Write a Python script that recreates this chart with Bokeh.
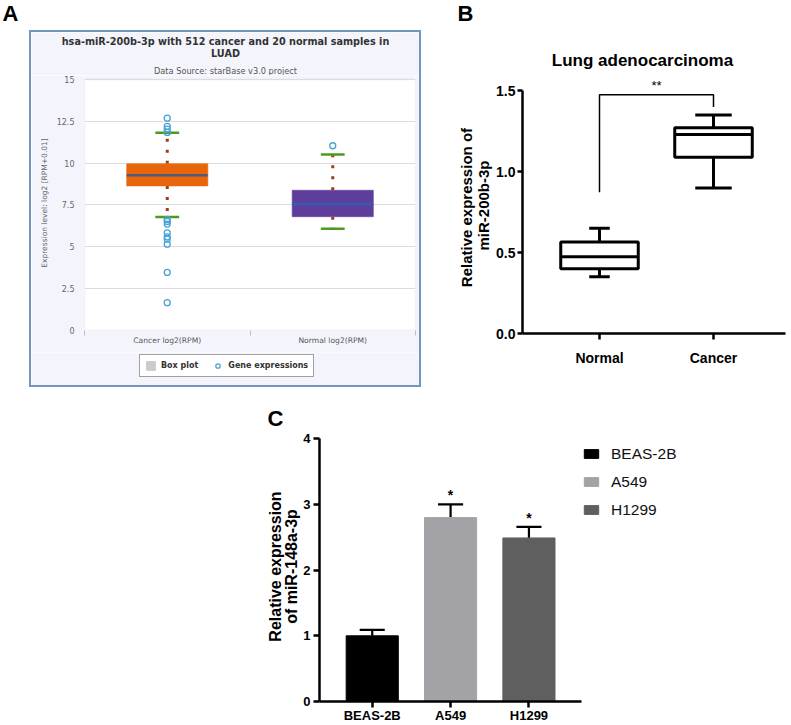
from bokeh.plotting import figure
from bokeh.models import (ColumnDataSource, FixedTicker, Label, BoxAnnotation,
                          Legend, LegendItem, Range1d, Spacer)
from bokeh.layouts import column, row
from bokeh.embed import file_html
from bokeh.resources import INLINE

# ---------------- Panel A data (starBase box plot) ----------------
a_groups = ["Cancer log2(RPM)", "Normal log2(RPM)"]
a_low = [6.78, 6.08]
a_q1 = [8.64, 6.80]
a_median = [9.28, 7.56]
a_q3 = [9.96, 8.38]
a_high = [11.82, 10.52]
a_out_group = [0, 0, 0, 0, 0, 0, 0, 0, 0, 0, 0, 0, 0, 1]
a_out_values = [12.69, 12.20, 12.03, 11.84, 6.64, 6.52, 6.36, 5.84, 5.60,
                5.46, 5.16, 3.47, 1.66, 11.04]
a_yticks = [0, 2.5, 5, 7.5, 10, 12.5, 15]
a_box_colors = ["#e8650c", "#5f3e9b"]
a_median_colors = ["#4f5c76", "#2d5fae"]

# ---------------- Panel B data (GraphPad box plot) ----------------
b_groups = ["Normal", "Cancer"]
b_low = [0.35, 0.90]
b_q1 = [0.40, 1.09]
b_median = [0.475, 1.23]
b_q3 = [0.566, 1.271]
b_high = [0.65, 1.351]
b_yticks = [0.0, 0.5, 1.0, 1.5]
b_bracket = [0.873, 1.475, 1.40]   # left foot, bar, right foot
b_sig = "**"

# ---------------- Panel C data (bar chart) ----------------
c_groups = ["BEAS-2B", "A549", "H1299"]
c_values = [1.0, 2.80, 2.49]
c_errors = [0.09, 0.20, 0.17]
c_sig = ["", "*", "*"]
c_colors = ["#000000", "#a3a3a7", "#5f5f5f"]
c_yticks = [0, 1, 2, 3, 4]

DV = "DejaVu Sans"
AR = "Liberation Sans"
LAV = "#f4f5fc"
BLUE = "#7495bd"
NAN = float("nan")


def strip(w, h, x0, x1, ytop, ybot, fill="white"):
    """A plain text strip: its frame fills it, pixel-like ranges, no axes."""
    f = figure(width=w, height=h, title=None, x_range=Range1d(x0, x1),
               y_range=Range1d(ybot, ytop), x_axis_type=None, y_axis_type=None,
               output_backend="svg", toolbar_location=None, min_border=0)
    f.outline_line_color = None
    f.border_fill_color = fill
    f.background_fill_color = fill
    return f


# ======================= Panel A =======================
s_a = strip(440, 30, 0, 440, 0, 30)
s_a.add_layout(Label(x=2, y=13, text="A", text_align="left",
                     text_baseline="middle", text_font=AR,
                     text_font_style="bold", text_font_size="22px",
                     text_color="black"))

# title strip inside the container
t_a = strip(388, 43, 31, 419, 32, 75, fill=LAV)
t_a.add_layout(Label(x=225, y=40.8,
                     text="hsa-miR-200b-3p with 512 cancer and 20 normal samples in",
                     text_align="center", text_baseline="middle", text_font=DV,
                     text_font_style="bold", text_font_size="9.7px",
                     text_color="#333333"))
t_a.add_layout(Label(x=225, y=52.5, text="LUAD", text_align="center",
                     text_baseline="middle", text_font=DV, text_font_style="bold",
                     text_font_size="9.7px", text_color="#333333"))
t_a.add_layout(Label(x=225, y=70.2, text="Data Source: starBase v3.0 project",
                     text_align="center", text_baseline="middle", text_font=DV,
                     text_font_size="8.2px", text_color="#555555"))

# plot
a_x = [i + 0.5 for i in range(len(a_groups))]
pa = figure(width=388, height=277, title=None, x_range=Range1d(0, 2),
            y_range=Range1d(0, 15.239), output_backend="svg", toolbar_location=None,
            min_border_left=53, min_border_right=4, min_border_top=0,
            min_border_bottom=22)
pa.border_fill_color = LAV
pa.background_fill_color = LAV
pa.outline_line_color = None
pa.add_layout(BoxAnnotation(left=0, right=2, top=15, bottom=0,
                            fill_color="white", fill_alpha=1,
                            line_color="#c6c8cf", line_width=1.5, level="image"))

src_a = ColumnDataSource(dict(
    x=a_x, low=a_low, q1=a_q1, med=a_median, q3=a_q3, high=a_high,
    box=a_box_colors, medc=a_median_colors,
    wl=[v - 0.072 for v in a_x], wr=[v + 0.072 for v in a_x],
    bl=[v - 0.245 for v in a_x], br=[v + 0.245 for v in a_x]))

pa.segment(x0="x", y0="q3", x1="x", y1="high", source=src_a,
           line_color="#a2391b", line_width=3, line_dash="3 8", line_cap="butt")
pa.segment(x0="x", y0="q1", x1="x", y1="low", source=src_a,
           line_color="#a2391b", line_width=3, line_dash="3 8", line_cap="butt")
pa.vbar(x="x", width=0.49, bottom="q1", top="q3", source=src_a,
        fill_color="box", line_color="box", line_alpha=0.6, line_width=1)
pa.segment(x0="bl", y0="med", x1="br", y1="med", source=src_a,
           line_color="medc", line_width=2.5)
pa.segment(x0="wl", y0="high", x1="wr", y1="high", source=src_a,
           line_color="#4e9a1e", line_width=2.5)
pa.segment(x0="wl", y0="low", x1="wr", y1="low", source=src_a,
           line_color="#4e9a1e", line_width=2.5)
pa.scatter(x=[a_x[g] for g in a_out_group], y=a_out_values,
           marker="circle", size=6, fill_color=None,
           line_color="#47a3d8", line_width=1.3)

pa.ygrid.ticker = FixedTicker(ticks=a_yticks)
pa.ygrid.grid_line_color = "#dcdcdc"
pa.xgrid.grid_line_color = None
pa.yaxis.ticker = FixedTicker(ticks=a_yticks)
pa.yaxis.bounds = (0, 15)
pa.yaxis.axis_line_color = None
pa.yaxis.major_tick_line_color = None
pa.yaxis.minor_tick_line_color = None
pa.yaxis.major_tick_out = 0
pa.yaxis.major_label_standoff = 10
pa.yaxis.major_label_text_font = DV
pa.yaxis.major_label_text_font_size = "8px"
pa.yaxis.major_label_text_color = "#666666"
pa.yaxis.axis_label = "Expression level: log2 [RPM+0.01]"
pa.yaxis.axis_label_text_font = DV
pa.yaxis.axis_label_text_font_size = "7.5px"
pa.yaxis.axis_label_text_font_style = "normal"
pa.yaxis.axis_label_text_color = "#666666"
pa.yaxis.axis_label_standoff = 5
pa.xaxis.ticker = FixedTicker(ticks=a_x, minor_ticks=[0, 1, 2])
pa.xaxis.major_label_overrides = {x: g for x, g in zip(a_x, a_groups)}
pa.xaxis.axis_line_color = None
pa.xaxis.major_tick_line_color = None
pa.xaxis.major_tick_out = 0
pa.xaxis.minor_tick_line_color = "#c0c0c0"
pa.xaxis.minor_tick_in = 0
pa.xaxis.minor_tick_out = 5
pa.xaxis.major_label_standoff = 0
pa.xaxis.major_label_text_font = DV
pa.xaxis.major_label_text_font_size = "7.6px"
pa.xaxis.major_label_text_color = "#555555"

# legend strip inside the container (legend keys are unplotted NaN proxies)
l_a = strip(388, 33, 31, 419, 352, 385, fill=LAV)
r_boxleg = l_a.vbar(x=[NAN], top=[NAN], bottom=[NAN], width=1,
                    fill_color="#cccccc", line_color="#cccccc")
r_outleg = l_a.scatter(x=[NAN], y=[NAN], marker="circle", size=6, fill_color=None,
                       line_color="#47a3d8", line_width=1.3)
l_a.add_layout(Legend(items=[LegendItem(label="Box plot", renderers=[r_boxleg]),
                             LegendItem(label="Gene expressions", renderers=[r_outleg])],
                      orientation="horizontal", location=(108, 8),
                      border_line_color="#444444", border_line_width=1.5,
                      background_fill_color="white", background_fill_alpha=1,
                      label_text_font=DV, label_text_font_style="bold",
                      label_text_font_size="8px", label_text_color="#333333",
                      glyph_width=11, glyph_height=11, label_height=11,
                      label_standoff=5, spacing=14, padding=5, margin=0))

inner_a = column(row(t_a), row(pa), row(l_a))
box_a = column(Spacer(width=392, height=2, styles={"background-color": BLUE}),
               row(Spacer(width=2, height=353, styles={"background-color": BLUE}),
                   inner_a,
                   Spacer(width=2, height=353, styles={"background-color": BLUE})),
               Spacer(width=392, height=2, styles={"background-color": BLUE}))
left_col = column(row(s_a),
                  row(Spacer(width=29, height=357), box_a, Spacer(width=19, height=357)),
                  Spacer(width=440, height=8))

# ======================= Panel B =======================
s_b = strip(351, 77, 440, 791, 0, 77)
s_b.add_layout(Label(x=457, y=13, text="B", text_align="left",
                     text_baseline="middle", text_font=AR,
                     text_font_style="bold", text_font_size="22px",
                     text_color="black"))
s_b.add_layout(Label(x=642, y=60, text="Lung adenocarcinoma", text_align="center",
                     text_baseline="middle", text_font=AR, text_font_style="bold",
                     text_font_size="17px", text_color="black"))

b_x = [i + 1 for i in range(len(b_groups))]
b_cap = [0.18, 0.32]
pb = figure(width=351, height=318, title=None, x_range=Range1d(0.3246, 2.6316),
            y_range=Range1d(0, 1.5822), output_backend="svg", toolbar_location=None,
            min_border_left=82, min_border_right=6, min_border_top=0,
            min_border_bottom=62)
pb.outline_line_color = None
pb.grid.visible = False
src_b = ColumnDataSource(dict(
    x=b_x, low=b_low, q1=b_q1, med=b_median, q3=b_q3, high=b_high,
    bl=[v - 0.34 for v in b_x], br=[v + 0.34 for v in b_x],
    cl=[v - c / 2 for v, c in zip(b_x, b_cap)],
    cr=[v + c / 2 for v, c in zip(b_x, b_cap)]))
pb.segment(x0="x", y0="q3", x1="x", y1="high", source=src_b, line_color="black", line_width=3)
pb.segment(x0="x", y0="q1", x1="x", y1="low", source=src_b, line_color="black", line_width=3)
pb.segment(x0="cl", y0="high", x1="cr", y1="high", source=src_b, line_color="black", line_width=3)
pb.segment(x0="cl", y0="low", x1="cr", y1="low", source=src_b, line_color="black", line_width=3)
pb.vbar(x="x", width=0.68, bottom="q1", top="q3", source=src_b,
        fill_color="white", line_color="black", line_width=3)
pb.segment(x0="bl", y0="med", x1="br", y1="med", source=src_b, line_color="black", line_width=3)
pb.line(x=[b_x[0], b_x[0], b_x[1], b_x[1]],
        y=[b_bracket[0], b_bracket[1], b_bracket[1], b_bracket[2]],
        line_color="black", line_width=1.5)
pb.add_layout(Label(x=(b_x[0] + b_x[1]) / 2, y=1.530, text=b_sig, text_align="center",
                    text_baseline="middle", text_font=AR, text_font_size="13px",
                    text_color="black"))

for ax in (pb.xaxis, pb.yaxis):
    ax.axis_line_width = 2.5
    ax.axis_line_color = "black"
    ax.major_tick_line_width = 2.5
    ax.major_tick_line_color = "black"
    ax.minor_tick_line_color = None
    ax.major_tick_in = 0
    ax.major_label_text_font = AR
    ax.major_label_text_font_style = "bold"
    ax.major_label_text_font_size = "14px"
    ax.major_label_text_color = "black"
pb.yaxis.ticker = FixedTicker(ticks=b_yticks)
pb.yaxis.bounds = (0, 1.5)
pb.yaxis.major_label_overrides = {v: f"{v:.1f}" for v in b_yticks}
pb.yaxis.major_tick_out = 5
pb.yaxis.major_label_standoff = 2
pb.yaxis.axis_label = "Relative  expression of\nmiR-200b-3p"
pb.yaxis.axis_label_text_font = AR
pb.yaxis.axis_label_text_font_style = "bold"
pb.yaxis.axis_label_text_font_size = "15px"
pb.yaxis.axis_label_text_color = "black"
pb.yaxis.axis_label_text_line_height = 1.0
pb.yaxis.axis_label_standoff = 1
pb.xaxis.ticker = FixedTicker(ticks=b_x)
pb.xaxis.major_label_overrides = {x: g for x, g in zip(b_x, b_groups)}
pb.xaxis.major_tick_out = 6
pb.xaxis.major_label_standoff = 10

right_col = column(row(s_b), row(pb))

# ======================= Panel C =======================
s_c = strip(791, 36, 0, 791, 395, 431)
s_c.add_layout(Label(x=267, y=418, text="C", text_align="left",
                     text_baseline="middle", text_font=AR,
                     text_font_style="bold", text_font_size="22px",
                     text_color="black"))

c_x = [i + 1 for i in range(len(c_groups))]
c_top = [v + e for v, e in zip(c_values, c_errors)]
pc = figure(width=791, height=294, title=None, x_range=Range1d(0.327, 6.351),
            y_range=Range1d(0, 4.111), output_backend="svg", toolbar_location=None,
            min_border_left=319, min_border_right=0, min_border_top=0,
            min_border_bottom=24)
pc.outline_line_color = None
pc.grid.visible = False
src_c = ColumnDataSource(dict(x=c_x, v=c_values, top=c_top, color=c_colors,
                              sig=c_sig,
                              cl=[v - 0.16 for v in c_x], cr=[v + 0.16 for v in c_x]))
pc.segment(x0="x", y0="v", x1="x", y1="top", source=src_c, line_color="black", line_width=2.2)
pc.segment(x0="cl", y0="top", x1="cr", y1="top", source=src_c, line_color="black", line_width=2.2)
r_bars = pc.vbar(x="x", width=0.665, top="v", bottom=0, source=src_c,
                 fill_color="color", line_color="color")
pc.text(x="x", y="top", text="sig", source=src_c, text_align="center",
        text_baseline="bottom", y_offset=-1, text_font_size="14px",
        text_font_style="bold", text_color="black")

for ax in (pc.xaxis, pc.yaxis):
    ax.axis_line_width = 2.5
    ax.axis_line_color = "black"
    ax.major_tick_line_width = 2.5
    ax.major_tick_line_color = "black"
    ax.minor_tick_line_color = None
    ax.major_tick_in = 0
    ax.major_label_text_font = AR
    ax.major_label_text_font_style = "bold"
    ax.major_label_text_font_size = "13px"
    ax.major_label_text_color = "black"
pc.yaxis.ticker = FixedTicker(ticks=c_yticks)
pc.yaxis.bounds = (0, 4)
pc.yaxis.major_tick_out = 6
pc.yaxis.major_label_standoff = 3
pc.yaxis.axis_label = "Relative expression\nof miR-148a-3p"
pc.yaxis.axis_label_text_font = AR
pc.yaxis.axis_label_text_font_style = "bold"
pc.yaxis.axis_label_text_font_size = "16px"
pc.yaxis.axis_label_text_color = "black"
pc.yaxis.axis_label_text_line_height = 0.95
pc.yaxis.axis_label_standoff = 0
pc.xaxis.ticker = FixedTicker(ticks=c_x)
pc.xaxis.bounds = (0.327, 3.677)
pc.xaxis.major_label_overrides = {x: g for x, g in zip(c_x, c_groups)}
pc.xaxis.major_tick_out = 6
pc.xaxis.major_label_standoff = 0

pc.add_layout(Legend(items=[LegendItem(label=g, renderers=[r_bars], index=i)
                            for i, g in enumerate(c_groups)],
                     location=(263, 181), orientation="vertical",
                     border_line_color=None, background_fill_alpha=0,
                     label_text_font=AR,
                     label_text_font_size="15.5px", label_text_color="#111111",
                     glyph_width=18, glyph_height=11, label_height=21,
                     label_standoff=11, spacing=7, padding=0, margin=0))

col_c = column(row(s_c), row(pc))

layout = column(row(left_col, right_col), col_c)
open("out.html", "w").write(file_html(layout, INLINE))
